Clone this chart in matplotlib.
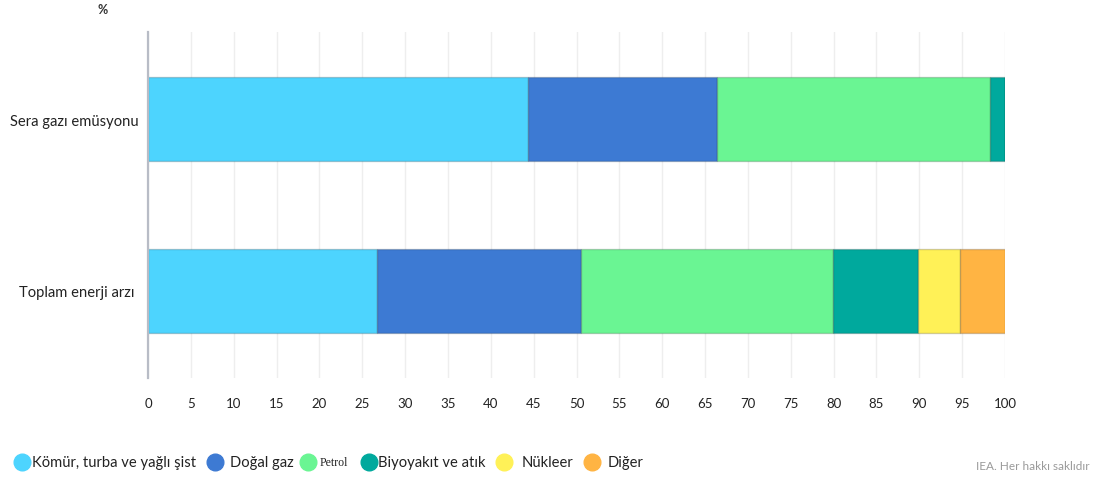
import matplotlib.pyplot as plt
from matplotlib.lines import Line2D

categories = ["Toplam enerji arzı ", "Sera gazı emüsyonu"]
sources = ["Kömür, turba ve yağlı şist", "Doğal gaz", "Petrol", "Biyoyakıt ve atık", "Nükleer", "Diğer"]
colors = ["#4DD4FE", "#3D7AD3", "#6AF593", "#00A99D", "#FFF157", "#FFB443"]

# share of each source, %  (Toplam enerji arzı, Sera gazı emüsyonu)
komur = [26.7, 44.3]
dogal_gaz = [23.8, 22.1]
petrol = [29.4, 31.8]
biyoyakit = [9.9, 1.8]
nukleer = [4.9, 0.0]
diger = [5.3, 0.0]
values = [komur, dogal_gaz, petrol, biyoyakit, nukleer, diger]

xticks = list(range(0, 101, 5))

plt.rcParams["font.family"] = ["Lato", "DejaVu Sans"]

fig = plt.figure(figsize=(10.97, 4.81), dpi=100)
ax = fig.add_axes([148 / 1097, 1 - 379 / 481, (1005 - 148) / 1097, 346 / 481])

ypos = list(range(len(categories)))
left = [0.0] * len(categories)
for vals, col in zip(values, colors):
    ax.barh(ypos, vals, left=left, height=0.49, color=col,
            edgecolor=(0, 0, 0, 0.18), linewidth=1.0, zorder=3)
    left = [l + v for l, v in zip(left, vals)]

ax.set_xlim(0, 100)
ax.set_ylim(-0.506, 1.506)
ax.set_xticks(xticks)
ax.set_yticks(ypos)
ax.set_yticklabels(categories, fontsize=10.6, color="#222222")
ax.tick_params(axis="x", length=0, pad=14, labelsize=9.5, labelcolor="#222222")
ax.tick_params(axis="y", length=0, pad=7)
ax.grid(axis="x", color="#eeeeee", linewidth=1.0, zorder=0)
for s in ["top", "right", "bottom"]:
    ax.spines[s].set_visible(False)
ax.spines["left"].set_color("#b8bcc6")
ax.spines["left"].set_linewidth(1.6)
ax.spines["left"].set_zorder(4)

fig.text(103 / 1097, 1 - 10 / 481, "%", fontsize=9, color="#333333",
         ha="center", va="center", fontweight="bold")

# legend row along the bottom
marker_x = [22, 215, 308, 369, 504, 592]
text_x = [32, 230, 320, 378, 522, 608]
ly = 1 - 463 / 481
for name, col, mx, tx in zip(sources, colors, marker_x, text_x):
    fig.add_artist(Line2D([mx / 1097], [ly], marker="o", markersize=12,
                          color=col, linestyle="none", transform=fig.transFigure))
    fam = ["Liberation Serif"] if name == "Petrol" else ["Lato", "DejaVu Sans"]
    fig.text(tx / 1097, ly, name, fontsize=10.6 if name != "Petrol" else 8.5,
             family=fam, color="#222222", ha="left", va="center", zorder=5)

fig.text(1090 / 1097, 1 - 466 / 481, "IEA. Her hakkı saklıdır", fontsize=8.5,
         color="#9a9a9a", ha="right", va="center")

fig.savefig("out.png", dpi=100)
